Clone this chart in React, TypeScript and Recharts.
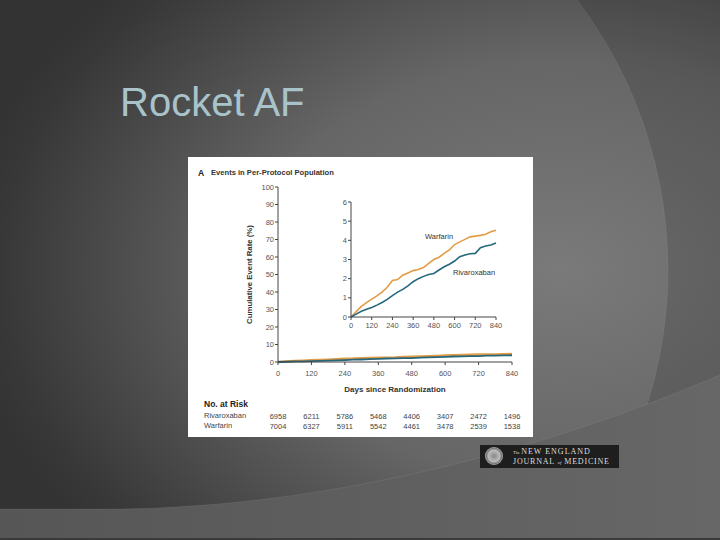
import React from 'react';
import { LineChart, Line, XAxis, YAxis } from 'recharts';

// ---- data ----
const days = [0, 30, 60, 90, 120, 150, 180, 210, 240, 270, 300, 330, 360, 390, 420, 450, 480, 510, 540, 570, 600, 630, 660, 690, 720, 750, 780, 810, 840];
const warfarinRate = [0, 0.28, 0.55, 0.75, 0.93, 1.1, 1.3, 1.55, 1.9, 1.95, 2.18, 2.3, 2.42, 2.48, 2.58, 2.8, 3.0, 3.12, 3.32, 3.5, 3.78, 3.92, 4.05, 4.18, 4.22, 4.26, 4.32, 4.45, 4.53];
const rivaroxabanRate = [0, 0.15, 0.3, 0.4, 0.5, 0.62, 0.76, 0.92, 1.12, 1.3, 1.44, 1.62, 1.84, 2.0, 2.12, 2.22, 2.27, 2.45, 2.62, 2.75, 2.92, 3.15, 3.24, 3.3, 3.32, 3.62, 3.7, 3.76, 3.86];

const xTicks = [0, 120, 240, 360, 480, 600, 720, 840];
const mainYTicks = [0, 10, 20, 30, 40, 50, 60, 70, 80, 90, 100];
const insetYTicks = [0, 1, 2, 3, 4, 5, 6];
const riskRivaroxaban = [6958, 6211, 5786, 5468, 4406, 3407, 2472, 1496];
const riskWarfarin = [7004, 6327, 5911, 5542, 4461, 3478, 2539, 1538];

const rows = days.map((d, i) => ({ day: d, warfarin: warfarinRate[i], rivaroxaban: rivaroxabanRate[i] }));

const ORANGE = '#e39c45';
const TEAL = '#25677d';
const AXIS = '#444';
const TICKTXT = '#555';
const FONT = '"Liberation Sans", Arial, sans-serif';

const RiskTick = (props: any) => {
  const { x, y, payload } = props;
  const i = xTicks.indexOf(payload.value);
  return (
    <g>
      <text x={x} y={y + 8.5} textAnchor="middle" fontSize={7.5} fill={TICKTXT} fontFamily={FONT}>{payload.value}</text>
      <text x={x} y={y + 51.5} textAnchor="middle" fontSize={7.5} fill="#444" fontFamily={FONT}>{riskRivaroxaban[i]}</text>
      <text x={x} y={y + 61.5} textAnchor="middle" fontSize={7.5} fill="#444" fontFamily={FONT}>{riskWarfarin[i]}</text>
    </g>
  );
};

const tickStyle = { fontSize: 7.5, fill: TICKTXT, fontFamily: FONT };

export default function App() {
  return (
    <div style={{
      position: 'absolute', left: 0, top: 0, width: 720, height: 540, overflow: 'hidden',
      background: 'radial-gradient(ellipse 600px 420px at 560px 270px, #7a7a7a 0%, #666 50%, #383838 93%, #333 100%)',
      fontFamily: FONT,
    }}>
      <svg width={720} height={540} style={{ position: 'absolute', left: 0, top: 0 }}>
        <defs>
          <linearGradient id="sw" x1="0" y1="0" x2="1" y2="0">
            <stop offset="0" stopColor="#565656" />
            <stop offset="1" stopColor="#676767" />
          </linearGradient>
        </defs>
        <path d="M0 0 H720 V540 H0 Z M668 270 A446 446 0 1 0 -224 270 A446 446 0 1 0 668 270 Z" fill="rgba(0,0,0,0.13)" fillRule="evenodd" />
        <path d="M668 270 A446 446 0 1 0 -224 270 A446 446 0 1 0 668 270 Z" fill="none" stroke="rgba(255,255,255,0.06)" strokeWidth={1} />
        <path d="M0 509 L120 509 C330 506 540 452 720 375 L720 540 L0 540 Z" fill="url(#sw)" />
        <path d="M0 509 L120 509 C330 506 540 452 720 375" fill="none" stroke="rgba(255,255,255,0.07)" strokeWidth={1} />
        <rect x={0} y={538} width={720} height={2} fill="#3a3a3a" />
      </svg>

      <div style={{ position: 'absolute', left: 120, top: 82, fontSize: 40, lineHeight: '40px', color: '#a9c3cb', whiteSpace: 'nowrap' }}>Rocket AF</div>

      <div style={{ position: 'absolute', left: 188, top: 157, width: 345, height: 280, background: '#fff' }}>
        <div style={{ position: 'absolute', left: 10, top: 11, fontSize: 8.5, lineHeight: '10px', fontWeight: 'bold', color: '#222', whiteSpace: 'nowrap' }}>A</div>
        <div style={{ position: 'absolute', left: 23, top: 11, fontSize: 7.6, lineHeight: '10px', fontWeight: 'bold', color: '#333', whiteSpace: 'nowrap' }}>Events in Per-Protocol Population</div>

        <div style={{ position: 'absolute', left: 0, top: 0 }}>
          <LineChart width={345} height={280} data={rows} margin={{ top: 30, right: 21, bottom: 45, left: 50 }}>
            <XAxis dataKey="day" type="number" domain={[0, 840]} ticks={xTicks} height={30} tickSize={3} tickMargin={2}
              axisLine={{ stroke: AXIS }} tickLine={{ stroke: AXIS }} tick={<RiskTick />} interval={0}
              label={{ value: 'Days since Randomization', position: 'insideBottom', offset: 0, style: { fontSize: 8, fontWeight: 'bold', fill: '#333', fontFamily: FONT } }} />
            <YAxis type="number" domain={[0, 100]} ticks={mainYTicks} width={40} tickSize={3} tickMargin={1}
              axisLine={{ stroke: AXIS }} tickLine={{ stroke: AXIS }} tick={tickStyle} interval={0}
              label={{ value: 'Cumulative Event Rate (%)', angle: -90, position: 'insideLeft', offset: 11, style: { textAnchor: 'middle', fontSize: 7.8, fontWeight: 'bold', fill: '#333', fontFamily: FONT } }} />
            <Line dataKey="warfarin" type="linear" stroke={ORANGE} strokeWidth={2.5} dot={false} isAnimationActive={false} />
            <Line dataKey="rivaroxaban" type="linear" stroke={TEAL} strokeWidth={1.8} dot={false} isAnimationActive={false} />
          </LineChart>
        </div>

        <div style={{ position: 'absolute', left: 130, top: 35 }}>
          <LineChart width={200} height={150} data={rows} margin={{ top: 10, right: 22, bottom: 4, left: 5 }}>
            <XAxis dataKey="day" type="number" domain={[0, 840]} ticks={xTicks} height={21} tickSize={3} tickMargin={3}
              axisLine={{ stroke: AXIS }} tickLine={{ stroke: AXIS }} tick={tickStyle} interval={0} />
            <YAxis type="number" domain={[0, 6]} ticks={insetYTicks} width={28} tickSize={3} tickMargin={1}
              axisLine={{ stroke: AXIS }} tickLine={{ stroke: AXIS }} tick={tickStyle} interval={0} />
            <Line dataKey="warfarin" type="linear" stroke={ORANGE} strokeWidth={1.6} dot={false} isAnimationActive={false} />
            <Line dataKey="rivaroxaban" type="linear" stroke={TEAL} strokeWidth={1.6} dot={false} isAnimationActive={false} />
          </LineChart>
        </div>

        <div style={{ position: 'absolute', left: 237, top: 75, fontSize: 7.5, lineHeight: '10px', color: '#333', whiteSpace: 'nowrap' }}>Warfarin</div>
        <div style={{ position: 'absolute', left: 265, top: 111, fontSize: 7.5, lineHeight: '10px', color: '#333', whiteSpace: 'nowrap' }}>Rivaroxaban</div>

        <div style={{ position: 'absolute', left: 16, top: 242, fontSize: 8.5, lineHeight: '10px', fontWeight: 'bold', color: '#222', whiteSpace: 'nowrap' }}>No. at Risk</div>
        <div style={{ position: 'absolute', left: 16, top: 254, fontSize: 7.5, lineHeight: '10px', color: '#444', whiteSpace: 'nowrap' }}>Rivaroxaban</div>
        <div style={{ position: 'absolute', left: 16, top: 264, fontSize: 7.5, lineHeight: '10px', color: '#444', whiteSpace: 'nowrap' }}>Warfarin</div>
      </div>

      <div style={{ position: 'absolute', left: 480, top: 445, width: 139, height: 23, background: '#1e1e1e' }}>
        <div style={{ position: 'absolute', left: 5, top: 2, width: 18, height: 18, borderRadius: '50%', background: 'radial-gradient(circle, #888 0%, #bbb 45%, #777 60%, #ccc 75%, #888 100%)' }} />
        <div style={{ position: 'absolute', left: 33, top: 2, fontFamily: '"Liberation Serif", serif', color: '#ddd', fontSize: 8, lineHeight: '9px', letterSpacing: 1, whiteSpace: 'nowrap' }}>
          <span style={{ fontSize: 4.5, letterSpacing: 0 }}>The </span>NEW ENGLAND
        </div>
        <div style={{ position: 'absolute', left: 33, top: 11.5, fontFamily: '"Liberation Serif", serif', color: '#ddd', fontSize: 8, lineHeight: '9px', letterSpacing: 0.8, whiteSpace: 'nowrap' }}>
          JOURNAL <span style={{ fontSize: 5, fontStyle: 'italic', letterSpacing: 0 }}>of</span> MEDICINE
        </div>
      </div>
    </div>
  );
}
